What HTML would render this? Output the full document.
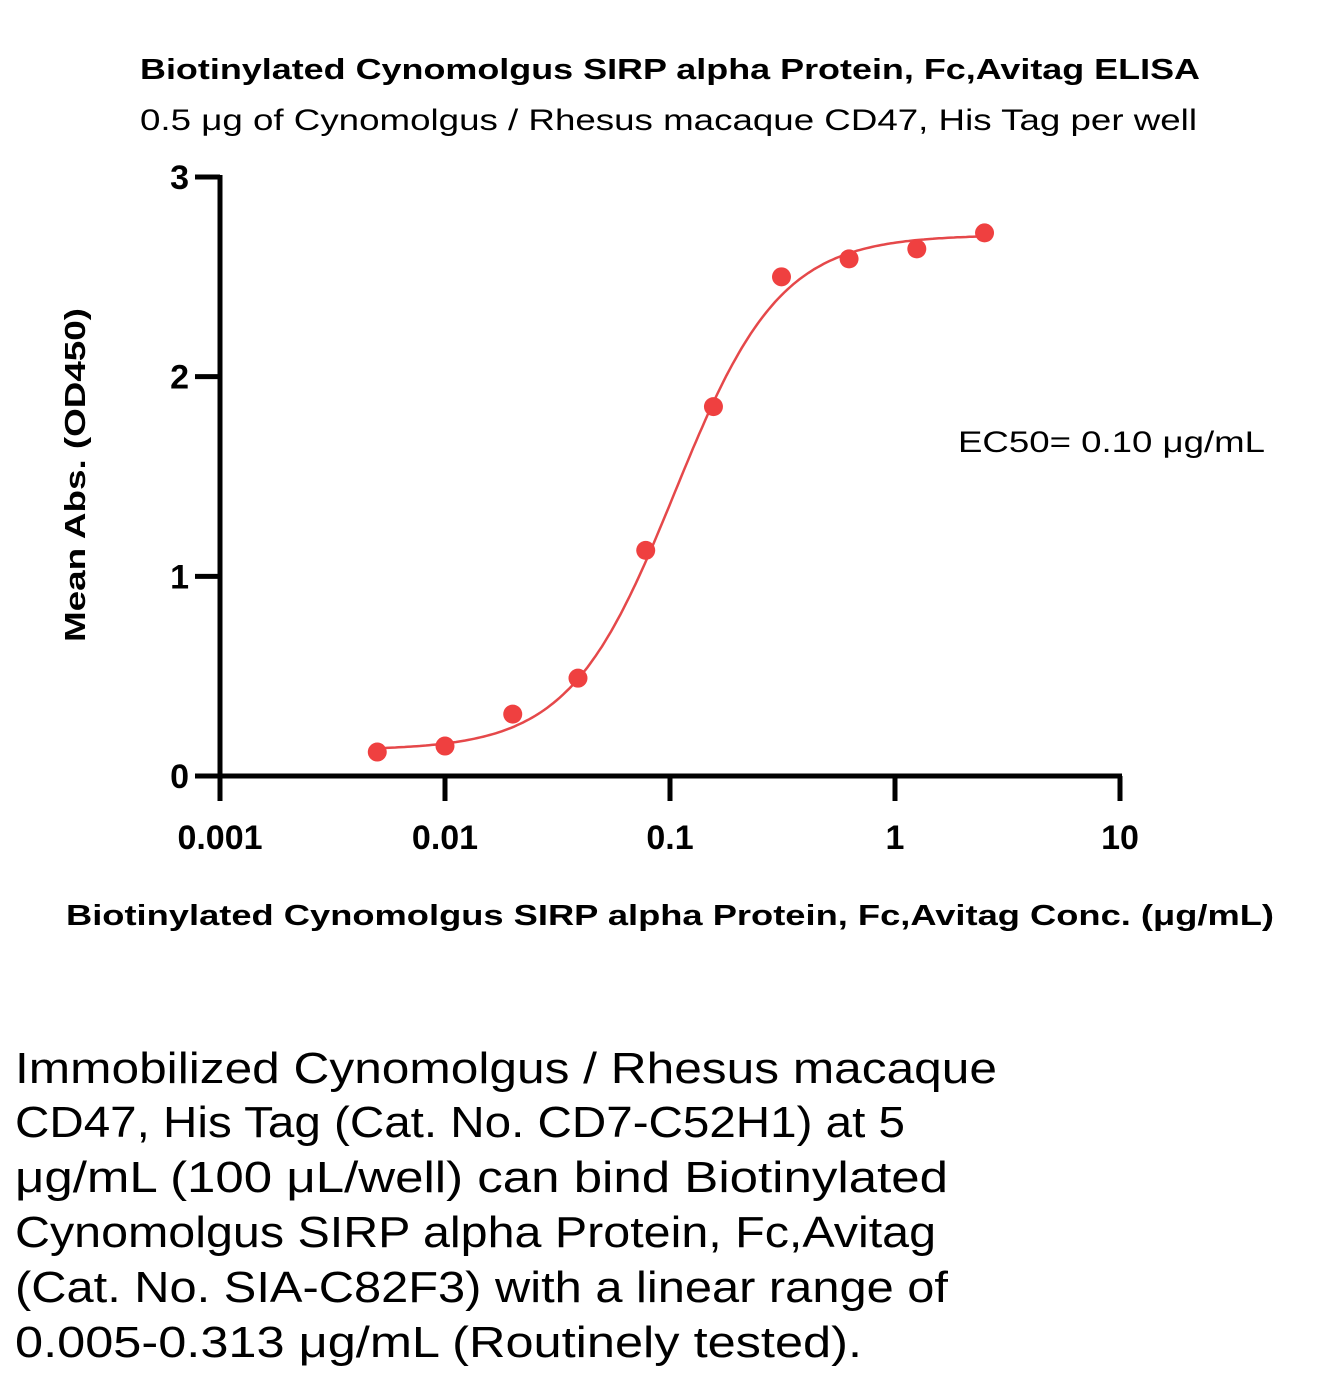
<!DOCTYPE html>
<html><head><meta charset="utf-8"><style>
html,body{margin:0;padding:0;background:#fff;}
svg{display:block;font-family:"Liberation Sans",sans-serif;}
</style></head><body>
<svg id="chart" width="1319" height="1382" viewBox="0 0 1319 1382">
<text x="140" y="79" font-size="29" font-weight="bold" textLength="1060" lengthAdjust="spacingAndGlyphs">Biotinylated Cynomolgus SIRP alpha Protein, Fc,Avitag ELISA</text>
<text x="140" y="130" font-size="30" textLength="1057" lengthAdjust="spacingAndGlyphs">0.5 μg of Cynomolgus / Rhesus macaque CD47, His Tag per well</text>
<g id="axes"></g>
<g id="marks"></g>
<text transform="translate(85,642) rotate(-90)" font-size="29" font-weight="bold" textLength="334" lengthAdjust="spacingAndGlyphs">Mean Abs. (OD450)</text>
<text x="66" y="925" font-size="29" font-weight="bold" textLength="1208" lengthAdjust="spacingAndGlyphs">Biotinylated Cynomolgus SIRP alpha Protein, Fc,Avitag Conc. (μg/mL)</text>
<text x="958" y="452" font-size="30" textLength="307" lengthAdjust="spacingAndGlyphs">EC50= 0.10 μg/mL</text>
<g font-size="44">
<text x="15" y="1083" textLength="982" lengthAdjust="spacingAndGlyphs">Immobilized Cynomolgus / Rhesus macaque</text>
<text x="15" y="1137" textLength="890" lengthAdjust="spacingAndGlyphs">CD47, His Tag (Cat. No. CD7-C52H1) at 5</text>
<text x="15" y="1192" textLength="933" lengthAdjust="spacingAndGlyphs">μg/mL (100 μL/well) can bind Biotinylated</text>
<text x="15" y="1247" textLength="921" lengthAdjust="spacingAndGlyphs">Cynomolgus SIRP alpha Protein, Fc,Avitag</text>
<text x="15" y="1302" textLength="933" lengthAdjust="spacingAndGlyphs">(Cat. No. SIA-C82F3) with a linear range of</text>
<text x="15" y="1357" textLength="847" lengthAdjust="spacingAndGlyphs">0.005-0.313 μg/mL (Routinely tested).</text>
</g>
</svg>
<script>
const concentrations = [0.005, 0.01, 0.02, 0.039, 0.078, 0.156, 0.313, 0.625, 1.25, 2.5];
const absorbances = [0.12, 0.15, 0.31, 0.49, 1.13, 1.85, 2.50, 2.59, 2.64, 2.72];
const fitParams = [0.13, 2.71, 0.105, 1.85]; // bottom, top, EC50, hill
const xTicks = [0.001, 0.01, 0.1, 1, 10];
const xTickLabels = ["0.001", "0.01", "0.1", "1", "10"];
const yTicks = [0, 1, 2, 3];
const yTickLabels = ["0", "1", "2", "3"];

(function () {
const NS = "http://www.w3.org/2000/svg";
const X0 = 220, X1 = 1120, Y0 = 776, Y1 = 177;
const xs = v => X0 + (Math.log10(v) + 3) / 4 * (X1 - X0);
const ys = v => Y0 - v / 3 * (Y0 - Y1);
function mk(tag, attrs, parent) { const e = document.createElementNS(NS, tag); for (const k in attrs) e.setAttribute(k, attrs[k]); parent.appendChild(e); return e; }
const axes = document.getElementById('axes'), marks = document.getElementById('marks');

let l = mk('line', {x1: X0, y1: Y1 - 2, x2: X0, y2: Y0 + 25, stroke: '#000', 'stroke-width': 5}, axes);


l = mk('line', {x1: X0 - 25, y1: Y0, x2: X1 + 2, y2: Y0, stroke: '#000', 'stroke-width': 5}, axes);



yTicks.forEach((v, i) => {
  const y = ys(v);
  const t = mk('line', {x1: X0 - 25, y1: y, x2: X0, y2: y, stroke: '#000', 'stroke-width': 5}, axes);
  
  
  const tx = mk('text', {x: 189, y: y + 12, 'font-size': 34, 'font-weight': 'bold', 'text-anchor': 'end'}, axes);
  tx.textContent = yTickLabels[i];
  
  
});
xTicks.forEach((v, i) => {
  const x = xs(v);
  const t = mk('line', {x1: x, y1: Y0, x2: x, y2: Y0 + 25, stroke: '#000', 'stroke-width': 5}, axes);
  
  
  const tx = mk('text', {x: x, y: 849, 'font-size': 34, 'font-weight': 'bold', 'text-anchor': 'middle'}, axes);
  tx.textContent = xTickLabels[i];
  
  
});

const fitBottom = fitParams[0], fitTop = fitParams[1], fitEc50 = fitParams[2], fitHill = fitParams[3];
let d = '';
const lo = Math.log10(concentrations[0]), hi = Math.log10(concentrations[concentrations.length - 1]);
for (let i = 0; i <= 200; i++) {
  const c = Math.pow(10, lo + (hi - lo) * i / 200);
  const v = fitBottom + (fitTop - fitBottom) / (1 + Math.pow(fitEc50 / c, fitHill));
  d += (i ? 'L' : 'M') + xs(c).toFixed(1) + ' ' + ys(v).toFixed(1);
}
const curve = mk('path', {d: d, fill: 'none', stroke: '#e5484a', 'stroke-width': 2.5}, marks);


concentrations.forEach((c, i) => {
  const p = mk('circle', {cx: xs(c), cy: ys(absorbances[i]), r: 9.5, fill: '#ef4040'}, marks);
  
  
});
})();
</script>
</body></html>
